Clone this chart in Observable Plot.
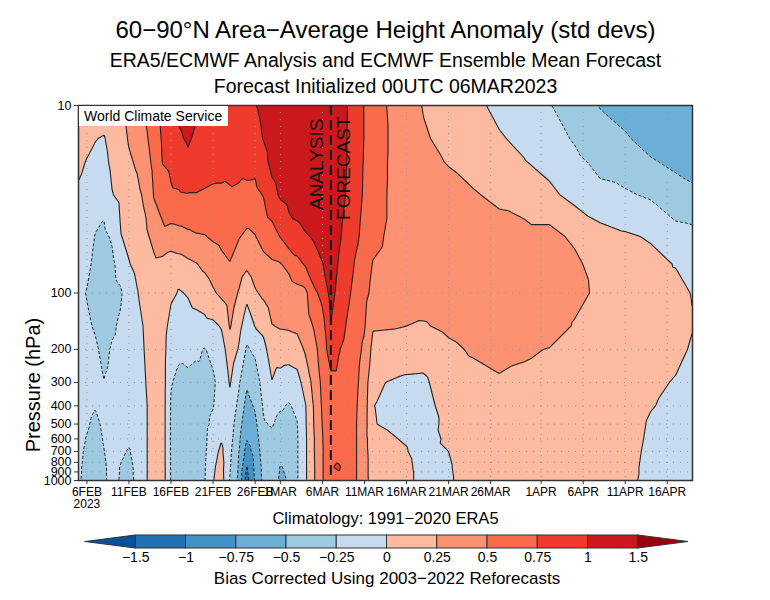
<!DOCTYPE html>
<html><head><meta charset="utf-8">
<script src="https://cdn.jsdelivr.net/npm/d3@7"></script>
<script src="https://cdn.jsdelivr.net/npm/@observablehq/plot@0.6"></script>
<style>
html,body{margin:0;padding:0;background:#fff;}
#wrap{position:relative;width:770px;height:600px;font-family:"Liberation Sans",Arial,sans-serif;}
#wrap svg{display:block;}
#wcs{position:absolute;left:79px;top:106px;width:149px;height:20px;background:#fff;font-size:14px;line-height:20px;padding-left:5px;box-sizing:border-box;color:#000;white-space:nowrap;}
</style></head><body><div id="wrap"></div>
<script>
// ---- Data ----
const dates = ["2023-02-05","2023-02-06","2023-02-07","2023-02-08","2023-02-09","2023-02-10","2023-02-11","2023-02-12","2023-02-13","2023-02-14","2023-02-15","2023-02-16","2023-02-17","2023-02-18","2023-02-19","2023-02-20","2023-02-21","2023-02-22","2023-02-23","2023-02-24","2023-02-25","2023-02-26","2023-02-27","2023-02-28","2023-03-01","2023-03-02","2023-03-03","2023-03-04","2023-03-05","2023-03-06","2023-03-07","2023-03-08","2023-03-09","2023-03-10","2023-03-11","2023-03-12","2023-03-15","2023-03-18","2023-03-21","2023-03-24","2023-03-27","2023-03-30","2023-04-02","2023-04-05","2023-04-08","2023-04-11","2023-04-14","2023-04-17","2023-04-19"];
const levels = [10, 15, 20, 30, 50, 70, 100, 150, 200, 300, 400, 500, 600, 700, 850, 1000];

const hPa10 = [0.10,0.12,0.15,0.18,0.21,0.24,0.32,0.42,0.54,0.68,0.82,0.97,1.06,1.10,1.04,0.97,0.93,0.90,0.90,0.92,0.95,0.99,1.05,1.12,1.18,1.22,1.27,1.30,1.32,1.33,1.30,1.20,0.99,0.88,0.74,0.62,0.40,0.24,0.17,0.05,-0.05,-0.13,-0.24,-0.35,-0.51,-0.57,-0.62,-0.66,-0.68];
const hPa15 = [0.07,0.05,0.01,-0.02,0.10,0.16,0.27,0.33,0.46,0.62,0.78,0.88,0.97,1.03,0.96,0.93,0.90,0.88,0.87,0.88,0.90,0.93,1.01,1.10,1.15,1.20,1.25,1.28,1.30,1.32,1.32,1.22,0.98,0.87,0.74,0.62,0.42,0.27,0.20,0.10,0.02,-0.05,-0.17,-0.27,-0.41,-0.48,-0.57,-0.62,-0.64];
const hPa20 = [0.04,-0.01,-0.06,-0.08,0.06,0.12,0.22,0.28,0.40,0.57,0.76,0.80,0.86,0.95,0.88,0.87,0.85,0.84,0.82,0.84,0.80,0.80,0.92,1.07,1.12,1.16,1.21,1.25,1.28,1.30,1.32,1.20,0.98,0.86,0.73,0.61,0.42,0.30,0.24,0.16,0.08,0.01,-0.07,-0.20,-0.30,-0.37,-0.48,-0.54,-0.57];
const hPa30 = [-0.03,-0.07,-0.15,-0.18,-0.01,0.05,0.15,0.20,0.30,0.52,0.62,0.72,0.73,0.74,0.74,0.72,0.70,0.70,0.72,0.70,0.71,0.70,0.76,0.92,1.03,1.07,1.13,1.17,1.20,1.25,1.30,1.15,0.95,0.84,0.72,0.60,0.42,0.34,0.31,0.27,0.20,0.14,0.05,-0.07,-0.20,-0.22,-0.28,-0.42,-0.46];
const hPa50 = [-0.10,-0.15,-0.26,-0.30,-0.22,-0.01,0.05,0.12,0.20,0.33,0.43,0.40,0.42,0.45,0.48,0.49,0.53,0.56,0.60,0.52,0.45,0.49,0.60,0.65,0.76,0.90,0.92,0.98,1.02,1.12,1.22,1.03,0.90,0.79,0.68,0.56,0.42,0.37,0.37,0.36,0.35,0.33,0.33,0.20,0.10,0.03,-0.02,-0.15,-0.17];
const hPa70 = [-0.15,-0.20,-0.30,-0.38,-0.30,-0.15,-0.01,0.06,0.15,0.20,0.18,0.12,0.15,0.20,0.24,0.30,0.37,0.44,0.49,0.40,0.30,0.40,0.42,0.47,0.49,0.56,0.68,0.78,0.92,0.99,1.15,0.97,0.85,0.72,0.63,0.49,0.40,0.38,0.39,0.40,0.41,0.39,0.38,0.31,0.12,0.10,0.06,-0.01,-0.08];
const hPa100 = [-0.20,-0.26,-0.34,-0.40,-0.33,-0.28,-0.12,-0.01,0.10,0.16,0.15,0.05,-0.02,0.02,0.10,0.13,0.22,0.30,0.38,0.24,0.07,0.22,0.30,0.40,0.42,0.38,0.42,0.45,0.70,0.82,1.08,0.92,0.80,0.66,0.58,0.43,0.35,0.36,0.38,0.41,0.43,0.42,0.41,0.32,0.20,0.17,0.08,0.06,-0.01];
const hPa150 = [-0.18,-0.22,-0.27,-0.35,-0.28,-0.22,-0.18,-0.10,0.05,0.12,0.13,-0.10,-0.15,-0.12,-0.10,-0.07,-0.05,0.02,0.27,0.10,-0.15,0.01,0.06,0.24,0.27,0.28,0.30,0.38,0.52,0.66,0.99,0.85,0.72,0.60,0.52,0.27,0.26,0.23,0.30,0.36,0.39,0.40,0.37,0.23,0.20,0.17,0.12,0.09,0.01];
const hPa200 = [-0.17,-0.20,-0.22,-0.30,-0.23,-0.20,-0.18,-0.12,0.03,0.11,0.12,-0.18,-0.22,-0.20,-0.22,-0.26,-0.20,-0.12,0.15,-0.01,-0.28,-0.20,-0.07,0.12,0.13,0.12,0.15,0.28,0.42,0.62,0.88,0.76,0.67,0.57,0.46,0.18,0.15,0.10,0.20,0.28,0.33,0.28,0.24,0.17,0.16,0.15,0.10,0.07,-0.03];
const hPa300 = [-0.15,-0.18,-0.20,-0.245,-0.20,-0.18,-0.17,-0.12,0.00,0.10,0.12,-0.24,-0.29,-0.29,-0.31,-0.30,-0.28,-0.17,0.02,-0.20,-0.47,-0.38,-0.15,-0.01,-0.10,-0.14,-0.10,0.12,0.32,0.56,0.68,0.68,0.62,0.54,0.40,0.03,-0.03,-0.04,0.13,0.17,0.22,0.20,0.17,0.14,0.13,0.12,0.06,-0.02,-0.10];
const hPa400 = [-0.17,-0.20,-0.24,-0.23,-0.18,-0.18,-0.19,-0.14,-0.02,0.10,0.12,-0.27,-0.31,-0.32,-0.35,-0.32,-0.26,-0.14,-0.06,-0.30,-0.58,-0.47,-0.22,-0.15,-0.22,-0.27,-0.20,-0.01,0.27,0.53,0.66,0.64,0.60,0.52,0.37,0.005,-0.08,-0.08,0.09,0.14,0.17,0.16,0.15,0.13,0.12,0.10,0.01,-0.04,-0.14];
const hPa500 = [-0.18,-0.23,-0.29,-0.22,-0.18,-0.20,-0.21,-0.17,-0.02,0.10,0.12,-0.28,-0.31,-0.33,-0.36,-0.31,-0.20,-0.07,-0.12,-0.38,-0.67,-0.56,-0.27,-0.23,-0.33,-0.33,-0.26,-0.02,0.26,0.51,0.65,0.62,0.59,0.51,0.36,0.01,-0.05,-0.08,0.05,0.13,0.15,0.15,0.14,0.12,0.12,0.09,-0.02,-0.07,-0.16];
const hPa600 = [-0.20,-0.26,-0.31,-0.24,-0.19,-0.21,-0.23,-0.19,-0.02,0.10,0.12,-0.28,-0.31,-0.33,-0.36,-0.30,-0.12,-0.01,-0.16,-0.43,-0.74,-0.62,-0.33,-0.30,-0.38,-0.38,-0.27,-0.03,0.24,0.49,0.66,0.62,0.59,0.51,0.35,0.07,0.00,-0.07,0.03,0.12,0.14,0.14,0.14,0.12,0.11,0.08,-0.03,-0.09,-0.17];
const hPa700 = [-0.21,-0.28,-0.32,-0.255,-0.20,-0.23,-0.26,-0.20,-0.02,0.10,0.12,-0.28,-0.30,-0.32,-0.35,-0.29,-0.07,0.04,-0.20,-0.47,-0.85,-0.66,-0.38,-0.34,-0.44,-0.42,-0.27,-0.03,0.24,0.48,0.70,0.66,0.59,0.51,0.35,0.10,0.04,-0.06,0.00,0.12,0.13,0.14,0.14,0.12,0.11,0.07,-0.04,-0.10,-0.18];
const hPa850 = [-0.22,-0.30,-0.32,-0.27,-0.21,-0.255,-0.28,-0.22,-0.02,0.10,0.12,-0.27,-0.29,-0.31,-0.34,-0.27,-0.03,0.08,-0.23,-0.51,-1.02,-0.70,-0.42,-0.37,-0.51,-0.47,-0.27,-0.03,0.23,0.48,0.74,0.77,0.60,0.51,0.35,0.12,0.07,-0.05,-0.02,0.12,0.13,0.14,0.14,0.12,0.11,0.06,-0.05,-0.12,-0.19];
const hPa1000 = [-0.23,-0.30,-0.30,-0.27,-0.21,-0.26,-0.29,-0.22,-0.02,0.10,0.12,-0.27,-0.28,-0.30,-0.33,-0.26,-0.01,0.10,-0.26,-0.53,-1.10,-0.72,-0.44,-0.39,-0.53,-0.49,-0.27,-0.03,0.23,0.48,0.72,0.70,0.60,0.51,0.35,0.13,0.08,-0.05,-0.03,0.12,0.13,0.14,0.14,0.12,0.11,0.06,-0.06,-0.13,-0.20];

const thresholds = [-1.5, -1, -0.75, -0.5, -0.25, 0, 0.25, 0.5, 0.75, 1, 1.5];
const thresholdLabels = ["\u22121.5","\u22121","\u22120.75","\u22120.5","\u22120.25","0","0.25","0.5","0.75","1","1.5"];
const colors = ["#08519c","#2171b5","#4292c6","#6baed6","#9ecae1","#c6dbef","#fcbba1","#fc9272","#fb6a4a","#ef3b2c","#cb181d","#99000d"];

const xTickDates = ["2023-02-06","2023-02-11","2023-02-16","2023-02-21","2023-02-26","2023-03-01","2023-03-06","2023-03-11","2023-03-16","2023-03-21","2023-03-26","2023-04-01","2023-04-06","2023-04-11","2023-04-16"];
const xTickLabels = ["6FEB\n2023","11FEB","16FEB","21FEB","26FEB","1MAR","6MAR","11MAR","16MAR","21MAR","26MAR","1APR","6APR","11APR","16APR"];
const yTicks = [10, 100, 200, 300, 400, 500, 600, 700, 800, 900, 1000];
const yGrid = [100, 200, 300, 400, 500, 600, 700, 800, 900];
const forecastStart = "2023-03-07";
const domainDates = ["2023-02-05", "2023-04-19"];

const title1 = "60\u221290\u00b0N Area\u2212Average Height Anomaly (std devs)";
const title2 = "ERA5/ECMWF Analysis and ECMWF Ensemble Mean Forecast";
const title3 = "Forecast Initialized 00UTC 06MAR2023";
const climText = "Climatology: 1991\u22122020 ERA5";
const biasText = "Bias Corrected Using 2003\u22122022 Reforecasts";

// ---- Build ----
const rows = [hPa10, hPa15, hPa20, hPa30, hPa50, hPa70, hPa100, hPa150, hPa200, hPa300, hPa400, hPa500, hPa600, hPa700, hPa850, hPa1000];
const points = [];
levels.forEach((p, i) => rows[i].forEach((v, j) => points.push({date: new Date(dates[j]), p, v})));
const xTicks = xTickDates.map(d => new Date(d));
const labelByTime = new Map(xTicks.map((d, i) => [+d, xTickLabels[i]]));
const fStart = new Date(forecastStart);
const font = "Liberation Sans, Arial, sans-serif";

const common = {x: "date", y: "p", interpolate: "barycentric", pixelSize: 1};

const main = Plot.plot({
  width: 770, height: 530,
  marginTop: 105, marginBottom: 50, marginLeft: 78, marginRight: 78,
  style: {fontFamily: font, fontSize: "13px", color: "#000", background: "#fff"},
  x: {type: "utc", domain: domainDates.map(d => new Date(d)), label: null},
  y: {type: "log", domain: [10, 1000], reverse: true, label: null},
  color: {type: "threshold", domain: thresholds, range: colors},
  marks: [
    Plot.contour(points, {...common, fill: "v", stroke: "none", thresholds}),
    Plot.ruleX(xTicks, {stroke: "#999", strokeDasharray: "1,6", strokeWidth: 1}),
    Plot.ruleY(yGrid, {stroke: "#999", strokeDasharray: "1,6", strokeWidth: 1}),
    Plot.contour(points, {...common, value: "v", thresholds: thresholds.filter(t => t < 0), fill: "none", stroke: "#222", strokeWidth: 1, strokeDasharray: "3,2"}),
    Plot.contour(points, {...common, value: "v", thresholds: thresholds.filter(t => t >= 0), fill: "none", stroke: "#222", strokeWidth: 1.1}),
    Plot.ruleX([fStart], {stroke: "#111", strokeWidth: 2, strokeDasharray: "10,5"}),
    Plot.text([fStart], {x: d => d, frameAnchor: "top", dy: 13, dx: -14, text: () => "ANALYSIS", rotate: -90, textAnchor: "end", lineAnchor: "middle", fontSize: 19, fill: "#111"}),
    Plot.text([fStart], {x: d => d, frameAnchor: "top", dy: 11, dx: 13, text: () => "FORECAST", rotate: -90, textAnchor: "end", lineAnchor: "middle", fontSize: 19, fill: "#111"}),
    Plot.axisX(xTicks, {tickFormat: d => labelByTime.get(+d), tickSize: 4, tickPadding: 3, fontSize: 12, label: null, stroke: "#333"}),
    Plot.axisY(yTicks, {tickFormat: () => "", tickSize: 4, label: null, stroke: "#333"}),
    Plot.text(yTicks, {y: d => d, frameAnchor: "left", dx: -7, textAnchor: "end", lineAnchor: "middle", text: d => String(d), fontSize: 12.5}),
    Plot.frame({stroke: "#333", strokeWidth: 1.5}),
    Plot.text([title1], {frameAnchor: "top", dy: -75, text: d => d, fontSize: 24, lineAnchor: "middle"}),
    Plot.text([title2], {frameAnchor: "top", dy: -45, text: d => d, fontSize: 19.5, lineAnchor: "middle"}),
    Plot.text([title3], {frameAnchor: "top", dy: -19, text: d => d, fontSize: 19.5, lineAnchor: "middle"}),
    Plot.text(["Pressure (hPa)"], {frameAnchor: "left", dx: -45, dy: 92, rotate: -90, textAnchor: "middle", text: d => d, fontSize: 20, lineAnchor: "middle"}),
    Plot.text([climText], {frameAnchor: "bottom", dy: 38, text: d => d, fontSize: 16.5, lineAnchor: "middle"})
  ]
});

// ---- Colour bar ----
const boxes = colors.slice(1, 11).map((c, k) => ({i: k + 1, c}));
const leftArrow = [{x: 0, y1: 0.5, y2: 0.5}, {x: 1, y1: 0, y2: 1}];
const rightArrow = [{x: 11, y1: 0, y2: 1}, {x: 12, y1: 0.5, y2: 0.5}];
const bar = Plot.plot({
  width: 770, height: 70, marginTop: 5, marginBottom: 52, marginLeft: 85, marginRight: 82,
  style: {fontFamily: font, fontSize: "14px", color: "#000", background: "#fff"},
  x: {domain: [0, 12], axis: null},
  y: {domain: [0, 1], axis: null},
  marks: [
    Plot.rect(boxes, {x1: "i", x2: d => d.i + 1, y1: 0, y2: 1, fill: "c", stroke: "#333", strokeWidth: 1}),
    Plot.areaY(leftArrow, {x: "x", y1: "y1", y2: "y2", fill: colors[0], stroke: "#333", strokeWidth: 1}),
    Plot.areaY(rightArrow, {x: "x", y1: "y1", y2: "y2", fill: colors[11], stroke: "#333", strokeWidth: 1}),
    Plot.text(thresholds, {x: (d, i) => i + 1, y: 0, dy: 9, text: (d, i) => thresholdLabels[i], fontSize: 14, lineAnchor: "middle"}),
    Plot.text([biasText], {frameAnchor: "bottom", dy: 30, text: d => d, fontSize: 17, lineAnchor: "middle"})
  ]
});

const wrap = document.getElementById("wrap");
wrap.appendChild(main);
wrap.appendChild(bar);
const wcs = document.createElement("div");
wcs.id = "wcs";
wcs.textContent = "World Climate Service";
wrap.appendChild(wcs);
</script></body></html>
